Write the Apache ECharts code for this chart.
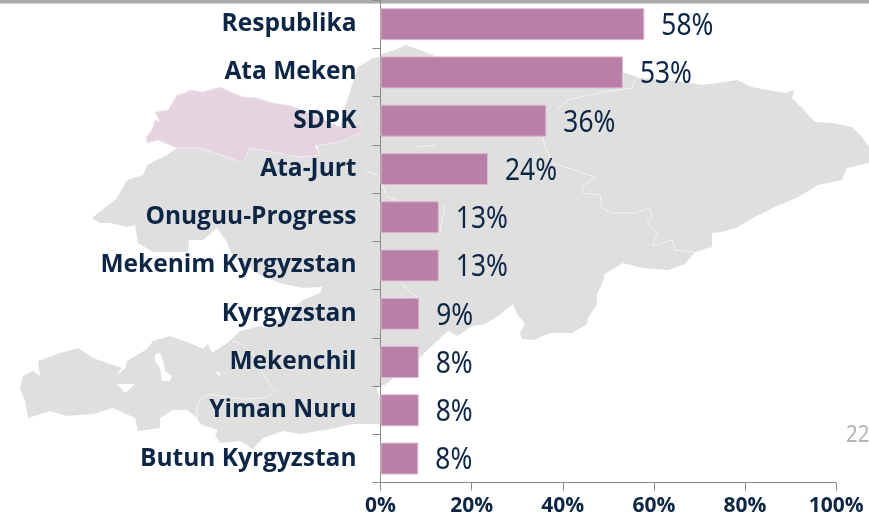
<!DOCTYPE html>
<html><head><meta charset="utf-8">
<style>html,body{margin:0;padding:0;background:#fff;overflow:hidden}#c{width:869px;height:523px}</style>
<script src="https://cdn.jsdelivr.net/npm/echarts@6/dist/echarts.min.js"></script>
</head><body><div id="c"></div>
<script>
const categories=['Respublika','Ata Meken','SDPK','Ata-Jurt','Onuguu-Progress','Mekenim Kyrgyzstan','Kyrgyzstan','Mekenchil','Yiman Nuru','Butun Kyrgyzstan'];
const values=[57.9,53.2,36.4,23.6,12.8,12.8,8.5,8.4,8.4,8.3];
const xTicks=[0,20,40,60,80,100];
const pageNumber='22';
// decorative background map outline (not data)
const mapBody=[[380,57],[373,58],[358,67],[353,82],[345,107],[340,127],[362,123],[362,132],[340,142],[317,146],[320,155],[300,157],[250,148],[243,163],[227,157],[200,148],[177,148],[167,155],[147,165],[143,175],[127,180],[117,198],[92,218],[100,223],[110,223],[127,227],[135,225],[138,243],[153,252],[170,252],[188,252],[189,240],[203,240],[217,228],[227,242],[232,255],[245,265],[260,275],[267,278],[280,283],[303,288],[322,287],[320,293],[303,300],[283,317],[267,328],[260,326],[240,331],[230,341],[212,353],[208,344],[203,349],[190,343],[170,336],[153,341],[147,349],[127,361],[125,369],[115,376],[122,368],[110,364],[93,358],[78,348],[57,354],[38,361],[40,376],[33,371],[23,376],[20,389],[25,401],[28,418],[50,411],[67,416],[93,414],[113,408],[135,418],[138,431],[160,428],[160,418],[173,410],[187,410],[197,418],[200,424],[218,430],[215,435],[220,443],[240,441],[253,449],[263,438],[283,431],[300,434],[330,429],[353,424],[380,424],[400,424],[378,394],[377,388],[385,385],[400,372],[419,358],[435,343],[448,331],[458,336],[472,326],[485,324],[498,316],[513,304],[517,314],[525,324],[520,333],[522,339],[535,340],[542,336],[552,333],[572,333],[587,324],[588,318],[597,304],[597,294],[602,284],[605,274],[623,263],[642,268],[668,270],[685,264],[695,252],[712,247],[712,233],[722,232],[738,227],[753,218],[775,207],[798,197],[818,185],[842,180],[847,168],[869,163],[869,147],[862,137],[852,127],[832,123],[815,122],[802,108],[792,98],[794,90],[785,93],[768,90],[752,87],[737,80],[718,83],[702,85],[692,83],[660,80],[640,78],[623,72],[535,75],[525,87],[515,87],[500,70],[435,56],[420,50],[406,45],[395,50],[382,54]];
const mapPink=[[146,137],[152,130],[155,120],[160,122],[155,112],[168,110],[177,95],[185,93],[190,90],[203,92],[220,87],[233,93],[243,97],[257,98],[273,103],[287,105],[297,108],[320,118],[340,127],[362,123],[362,132],[340,142],[315,146],[320,155],[300,157],[250,148],[243,163],[227,157],[200,148],[177,148],[158,140],[147,143]];
const mapHoles=[[[155,354],[160,353],[163,361],[165,371],[172,376],[170,381],[162,381],[160,368],[155,361]],[[117,384],[135,384],[125,393]],[[216,371],[221,374],[218,376]]];
const mapLines=[[[635,80],[632,88],[602,92],[568,100],[557,110]],[[543,137],[545,147],[553,163],[568,168],[595,177],[582,187],[583,193],[600,195],[602,208],[612,213],[635,213],[650,208],[652,217],[647,222],[658,233],[652,246],[672,240],[675,250],[695,252]],[[197,418],[197,408],[200,399],[210,394],[240,399],[267,398],[275,391],[263,374],[253,354],[240,343],[232,341]],[[400,281],[407,289],[418,298]],[[365,170],[380,177],[387,197],[397,200]],[[415,147],[435,145]],[[445,205],[440,232]]];
const bgShapes=[
 {type:'polygon',silent:true,z:-30,shape:{points:mapBody},style:{fill:'#dfdfdf'}},
 ...mapHoles.map(p=>({type:'polygon',silent:true,z:-29,shape:{points:p},style:{fill:'#fff'}})),
 ...mapLines.map(p=>({type:'polyline',silent:true,z:-29,shape:{points:p},style:{stroke:'#f3f3f3',lineWidth:1,fill:null}})),
 {type:'polygon',silent:true,z:-28,shape:{points:mapPink},style:{fill:'#e5d3df',stroke:'#f2e9ef',lineWidth:1}},
 {type:'rect',silent:true,z:-20,shape:{x:0,y:0,width:869,height:3.6},style:{fill:'#a9a9a9'}},
 {type:'text',silent:true,z:-20,x:846,y:435.5,scaleX:0.85,style:{text:pageNumber,fill:'#b4b4b4',font:'24px "Noto Sans"',verticalAlign:'middle',textVerticalAlign:'middle'}}
];
const chart=echarts.init(document.getElementById('c'),null,{renderer:'canvas'});
chart.setOption({
 animation:false,
 backgroundColor:'#fff',
 graphic:{elements:bgShapes},
 grid:{left:380.5,top:-2,width:455.7,height:484.7,containLabel:false},
 xAxis:{type:'value',min:0,max:100,interval:20,
  axisLine:{show:true,lineStyle:{color:'#8a8a8a',width:1}},
  axisTick:{show:true,length:8,lineStyle:{color:'#8a8a8a',width:1}},
  splitLine:{show:false},
  axisLabel:{margin:13,color:'#0d2645',fontFamily:'"Open Sans"',fontWeight:'bold',fontSize:21,hideOverlap:false,showMaxLabel:true,showMinLabel:true,
   formatter:v=>xTicks.includes(v)?v+'%':''}},
 yAxis:{type:'category',inverse:true,data:categories,
  axisLine:{show:true,lineStyle:{color:'#8a8a8a',width:1}},
  axisTick:{show:true,length:8,alignWithLabel:false,lineStyle:{color:'#8a8a8a',width:1}},
  axisLabel:{margin:24,interval:0,color:'#0d2645',fontFamily:'"Open Sans"',fontWeight:'bold',fontSize:24.5}},
 series:[{type:'bar',data:values,barWidth:32,
  itemStyle:{color:'#b97fa7',borderColor:'#dcbdd0',borderWidth:1}},
 {type:'custom',clip:false,z:5,data:values.map((v,i)=>[v,i]),encode:{x:0,y:1},
  renderItem:(params,api)=>{
   const p=api.coord([api.value(0),api.value(1)]);
   return {type:'text',x:p[0]+17,y:p[1]+2,scaleX:0.85,
    style:{text:Math.round(api.value(0))+'%',fill:'#0d2645',font:'31px "Noto Sans"',verticalAlign:'middle',textVerticalAlign:'middle',align:'left'}};
  }}]
});
</script></body></html>
